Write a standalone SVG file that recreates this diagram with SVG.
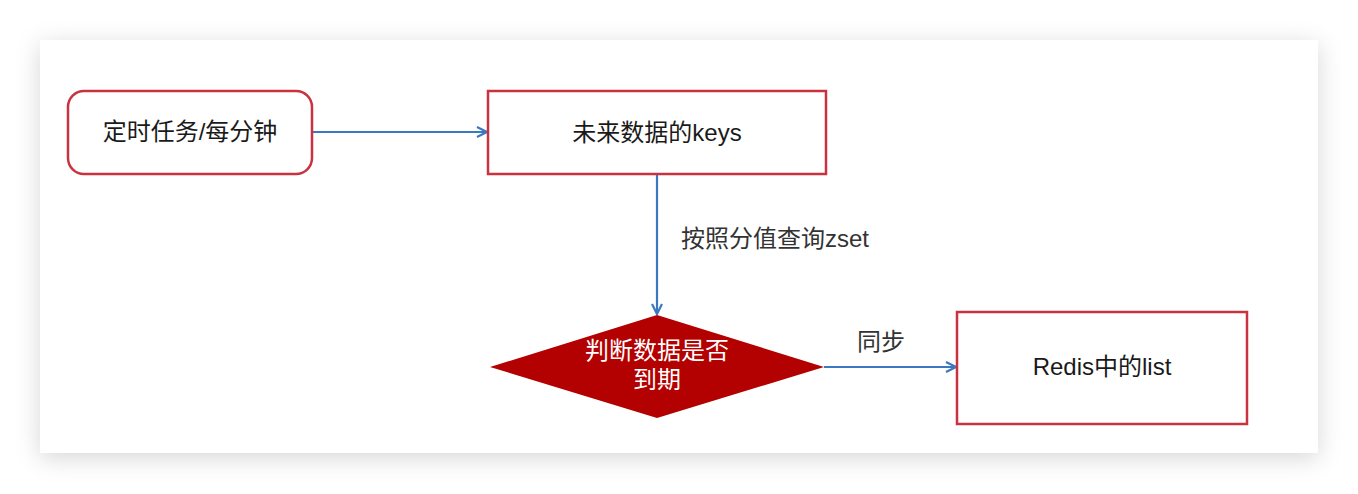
<svg xmlns="http://www.w3.org/2000/svg" width="1358" height="494" viewBox="0 0 1358 494">
<style>
.box{fill:#fff;stroke:#c8333f;stroke-width:2.5}
.t{font-family:"Liberation Sans","Noto Sans CJK SC",sans-serif;font-size:24px;fill:#1a1a1a;text-anchor:middle}
.lbl{font-family:"Liberation Sans","Noto Sans CJK SC",sans-serif;font-size:24px;fill:#333}
.w{fill:#fff}
.c{fill:none;stroke:#3b78c0;stroke-width:2.2}
</style>
<defs>
<filter id="sh" x="-10%" y="-20%" width="120%" height="140%">
<feDropShadow dx="0" dy="5" stdDeviation="12" flood-color="#000" flood-opacity="0.16"/>
</filter>
<marker id="ar" viewBox="0 0 12 12" refX="11" refY="6" markerWidth="12" markerHeight="12" markerUnits="userSpaceOnUse" orient="auto">
<path d="M1,1 L11,6 L1,11" fill="none" stroke="#3b78c0" stroke-width="2.2"/>
</marker>
</defs>
<rect x="0" y="0" width="1358" height="494" fill="#fff"/>
<rect x="40" y="40" width="1278" height="413" fill="#fff" filter="url(#sh)"/>
<g id="connectors">
<line class="c" x1="312" y1="132" x2="487" y2="132" marker-end="url(#ar)"/>
<line class="c" x1="657" y1="174" x2="657" y2="314" marker-end="url(#ar)"/>
<line class="c" x1="824" y1="367" x2="956" y2="367" marker-end="url(#ar)"/>
<text class="lbl" x="681" y="247">按照分值查询zset</text>
<text class="lbl" x="857" y="350">同步</text>
</g>
<g id="timer">
<rect class="box" x="68" y="91" width="244" height="83" rx="16"/>
<text class="t" x="190" y="140">定时任务/每分钟</text>
</g>
<g id="future-keys">
<rect class="box" x="488" y="91" width="338" height="83"/>
<text class="t" x="657" y="141">未来数据的keys</text>
</g>
<g id="decision">
<polygon points="657,315 824,367 657,418 490,367" fill="#b30000"/>
<text class="t w" x="657" y="359">判断数据是否</text>
<text class="t w" x="657" y="388">到期</text>
</g>
<g id="redis-list">
<rect class="box" x="957" y="312" width="290" height="112"/>
<text class="t" x="1102" y="375">Redis中的list</text>
</g>
</svg>
